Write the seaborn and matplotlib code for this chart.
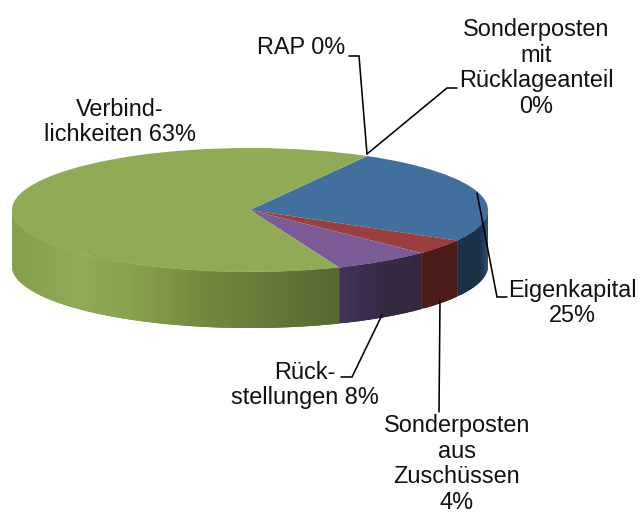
import numpy as np
import matplotlib
matplotlib.use("Agg")
import matplotlib.pyplot as plt
import seaborn as sns

# Slice order clockwise from the top-right boundary.  Shares are read from the
# picture's drawn angles (the purple slice is drawn narrower than its 8 % label).
categories = ["RAP", "Sonderposten mit Rücklageanteil", "Eigenkapital",
              "Sonderposten aus Zuschüssen", "Rückstellungen", "Verbindlichkeiten"]
shares = [0.0, 0.0, 25.0, 4.0, 6.7, 64.3]
top_colors = ["#41709F", "#41709F", "#41709F", "#9A3F3D", "#7A5B96", "#8FAB55"]
side_stops = [
    [(0.0, "#1C3048"), (1.0, "#1C3048")],
    [(0.0, "#1C3048"), (1.0, "#1C3048")],
    [(457, "#1B3049"), (480, "#1C3048"), (488, "#2F5378")],
    [(422, "#4B1C18"), (457, "#4B1C18")],
    [(338, "#45325A"), (380, "#362A44"), (422, "#33283F")],
    [(12, "#84A04C"), (80, "#8FAB55"), (130, "#88A24E"), (200, "#75893F"),
     (260, "#6A7C3A"), (338, "#56682E")],
]
labels = [
    ("RAP 0%", 301, 48),
    ("Sonderposten\nmit\nRücklageanteil\n0%", 536, 68),
    ("Eigenkapital\n25%", 572, 303),
    ("Sonderposten\naus\nZuschüssen\n4%", 457, 464),
    ("Rück-\nstellungen 8%", 305, 385),
    ("Verbind-\nlichkeiten 63%", 120, 122),
]
leaders = [
    ([349, 359, 367], [56, 56, 154]),
    ([457, 447, 367], [88, 88, 154]),
    ([477, 497, 507], [193, 297, 297]),
    ([440, 439], [301, 412]),
    ([382, 352, 341], [315, 377, 377]),
]

START_ANGLE = 60.5
W, H = 640, 516
LEFT, RIGHT, TOP, BOTTOM = 12, 488, 148, 272
DEPTH_PX = 56

sns.set_theme(style="white")
plt.rcParams["font.family"] = ["Liberation Sans", "DejaVu Sans"]


def to_rgb(c):
    return np.array(matplotlib.colors.to_rgb(c))


def shade(stops, x):
    xs = [s[0] for s in stops]
    cs = np.array([to_rgb(s[1]) for s in stops])
    return [float(np.interp(x, xs, cs[:, i])) for i in range(3)]


fig = plt.figure(figsize=(W / 100, H / 100), dpi=100, facecolor="white")
ax = fig.add_axes([LEFT / W, 1 - BOTTOM / H, (RIGHT - LEFT) / W, (BOTTOM - TOP) / H])
wedges, _ = ax.pie(shares, colors=sns.color_palette(top_colors), startangle=START_ANGLE,
                   counterclock=False, radius=1.0, wedgeprops={"linewidth": 0, "clip_on": False})
ax.set_aspect("auto")
ax.set_xlim(-1, 1)
ax.set_ylim(-1, 1)
ax.axis("off")

depth = DEPTH_PX / ((BOTTOM - TOP) / 2)
zo = 0.5
for w, stops in zip(wedges, side_stops):
    t1, t2 = w.theta1, w.theta2
    if t2 - t1 < 1e-6:
        continue
    a = np.append(np.arange(t1, t2, 1.0), t2)
    # the visible rim is the part of the slice on the lower half; each strip
    # overlaps the next so no background shows through the joins
    for p, q in zip(a[:-1], a[1:]):
        m = np.radians((p + q) / 2)
        if np.sin(m) > 0.01:
            continue
        ang = np.radians(np.linspace(p, min(q + 1.5, t2), 6))
        xs = np.r_[np.cos(ang), np.cos(ang)[::-1]]
        ys = np.r_[np.sin(ang), np.sin(ang)[::-1] - depth]
        xpx = (RIGHT + LEFT) / 2 + np.cos(m) * (RIGHT - LEFT) / 2
        zo += 1e-4
        ax.fill(xs, ys, color=shade(stops, xpx), lw=0, zorder=min(zo, 0.95), clip_on=False)

ov = fig.add_axes([0, 0, 1, 1], zorder=5)
ov.set_xlim(0, W)
ov.set_ylim(H, 0)
ov.axis("off")
ov.patch.set_alpha(0)
for xs, ys in leaders:
    ov.plot(xs, ys, color="black", lw=1.15, solid_joinstyle="miter")
for txt, x, y in labels:
    ov.text(x, y, txt, ha="center", va="center", fontsize=16.9, color="#111111",
            linespacing=1.16)

fig.savefig("out.png", dpi=100)
